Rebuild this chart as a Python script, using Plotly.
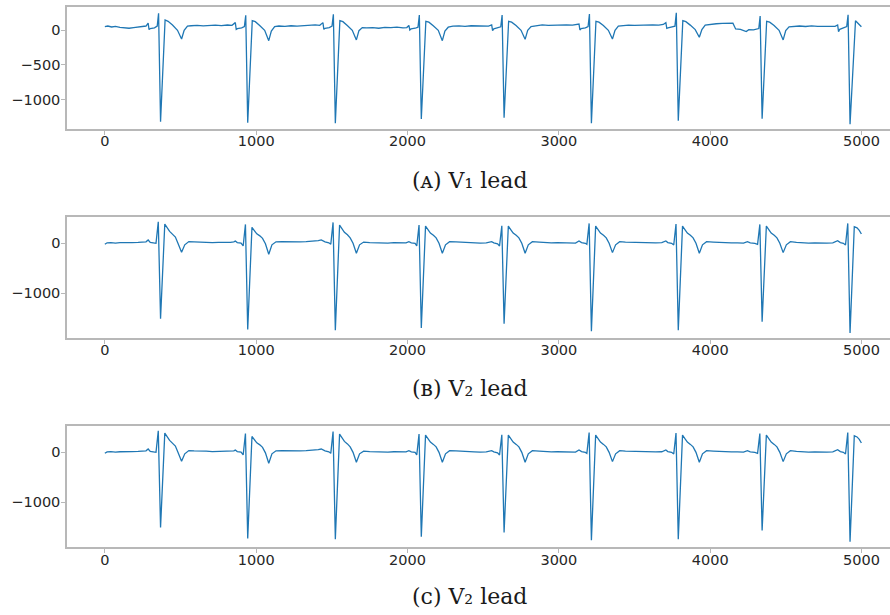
import plotly.graph_objects as go

# ---- V1 lead: sample index / amplitude ----
v1_x = [
    0, 20, 45, 70, 100, 130, 160, 190, 220, 250, 272,
    286, 292, 300, 328, 346, 355, 368, 398, 418, 447, 480, 507, 524, 546,
    570, 610, 650, 690, 730, 770, 810, 840,
    862, 868, 876, 904, 922, 931, 944, 974, 994, 1023, 1056, 1083, 1100, 1122,
    1150, 1190, 1230, 1270, 1310, 1350, 1390, 1420,
    1441, 1447, 1455, 1483, 1501, 1510, 1523, 1553, 1573, 1602, 1635, 1662, 1679, 1701,
    1730, 1770, 1810, 1850, 1890, 1930, 1970, 1995,
    2009, 2015, 2023, 2051, 2069, 2078, 2091, 2121, 2141, 2170, 2203, 2230, 2247, 2269,
    2300, 2340, 2380, 2420, 2460, 2500, 2535,
    2556, 2562, 2570, 2598, 2616, 2625, 2638, 2668, 2688, 2717, 2750, 2777, 2794, 2816,
    2850, 2890, 2930, 2970, 3010, 3050, 3090, 3115,
    3133, 3139, 3147, 3175, 3193, 3202, 3215, 3245, 3265, 3294, 3327, 3354, 3371, 3393,
    3420, 3460, 3500, 3540, 3580, 3620, 3660, 3690,
    3707, 3713, 3721, 3749, 3767, 3776, 3789, 3819, 3839, 3868, 3901, 3928, 3945, 3967,
    4000, 4040, 4080, 4120, 4150, 4168, 4200, 4238, 4255, 4286, 4305, 4321,
    4330, 4343, 4373, 4393, 4422, 4455, 4482, 4499, 4521,
    4550, 4590, 4630, 4670, 4710, 4750, 4790, 4825,
    4842, 4848, 4856, 4884, 4902, 4911, 4924, 4960, 4980, 4999,
]
v1_y = [
    52, 62, 48, 58, 42, 35, 30, 38, 45, 50, 62,
    105, 10, 25, 35, 60, 245, -1319, 149, 130, 76, 0, -125, 0, 60,
    66, 72, 64, 70, 75, 68, 77, 72,
    111, 14, 25, 35, 55, 216, -1333, 139, 125, 70, 0, -149, -10, 55,
    62, 58, 66, 60, 70, 75, 80, 72,
    111, 14, 30, 40, 60, 231, -1342, 139, 125, 70, 0, -139, -5, 40,
    35, 40, 30, 42, 38, 45, 35, 40,
    70, 5, 20, 30, 45, 221, -1280, 130, 118, 65, 0, -149, -10, 45,
    60, 65, 58, 66, 62, 68, 60,
    77, -5, 20, 35, 50, 221, -1261, 130, 118, 70, 0, -130, 0, 55,
    70, 78, 72, 76, 70, 80, 74, 78,
    91, 5, 25, 35, 55, 235, -1342, 130, 118, 70, 0, -125, 0, 60,
    70, 76, 72, 78, 74, 80, 76, 85,
    111, 29, 35, 45, 60, 254, -1304, 139, 125, 75, 10, -101, 10, 75,
    88, 95, 100, 98, 104, 20, 15, -19, 10, 5, 10, 25,
    206, -1276, 130, 118, 70, 0, -139, -5, 50,
    58, 62, 55, 63, 58, 60, 62, 58,
    77, -19, 15, 40, 55, 225, -1356, 139, 100, 52,
]

# ---- V2 lead: sample index / amplitude ----
v2_x = [
    0, 15, 40, 70, 100, 140, 180, 220, 250, 272,
    286, 300, 320, 338, 353, 368, 396, 413, 428, 448, 466, 483, 507, 528, 555,
    590, 630, 670, 710, 750, 790, 830, 852,
    862, 875, 900, 914, 929, 944, 972, 989, 1004, 1024, 1042, 1061, 1083, 1104, 1131,
    1170, 1210, 1250, 1290, 1330, 1370, 1410, 1430,
    1441, 1455, 1480, 1493, 1508, 1523, 1551, 1568, 1583, 1603, 1621, 1640, 1662, 1683, 1710,
    1750, 1790, 1830, 1870, 1910, 1950, 1990,
    2009, 2025, 2050, 2061, 2076, 2091, 2119, 2136, 2151, 2171, 2189, 2208, 2230, 2251, 2278,
    2320, 2360, 2400, 2440, 2480, 2520,
    2556, 2570, 2595, 2608, 2623, 2638, 2666, 2683, 2698, 2718, 2736, 2755, 2777, 2798, 2825,
    2870, 2910, 2950, 2990, 3030, 3070, 3110,
    3133, 3150, 3175, 3185, 3200, 3215, 3243, 3260, 3275, 3295, 3313, 3332, 3354, 3375, 3402,
    3440, 3480, 3520, 3560, 3600, 3640, 3680,
    3707, 3720, 3745, 3759, 3774, 3789, 3817, 3834, 3849, 3869, 3887, 3906, 3928, 3949, 3976,
    4020, 4060, 4100, 4140, 4180, 4220,
    4246, 4265, 4295, 4313, 4328, 4343, 4371, 4388, 4403, 4423, 4441, 4460, 4482, 4503, 4530,
    4570, 4610, 4650, 4690, 4730, 4770, 4810,
    4842, 4860, 4880, 4894, 4909, 4924, 4952, 4970, 4985, 4999,
]
v2_y = [
    -20, 10, 15, 5, 12, 8, 15, 20, 25, 30,
    67, 20, 10, 0, 433, -1513, 387, 310, 240, 180, 125, 0, -180, -30, 35,
    30, 20, 25, 15, 20, 15, 18, 30,
    45, 15, 5, -53, 380, -1733, 320, 250, 190, 150, 100, -10, -220, -30, 30,
    35, 30, 25, 30, 35, 40, 55, 67,
    50, 30, 10, -20, 420, -1747, 367, 290, 220, 170, 110, 0, -200, -30, 25,
    15, 10, 15, 5, 12, 15, 10,
    33, 10, 0, -53, 367, -1700, 347, 270, 205, 160, 110, 0, -200, -30, 33,
    30, 20, 15, 10, 5, 8,
    33, 10, -10, -53, 353, -1613, 347, 270, 205, 160, 110, 0, -200, -30, 33,
    25, 15, 10, 12, 8, 10, 5,
    47, 15, 0, -20, 400, -1767, 347, 270, 205, 160, 110, 0, -187, -30, 33,
    25, 20, 10, 15, 5, 10, 12,
    47, 15, 0, -33, 387, -1747, 347, 270, 205, 160, 110, 0, -200, -30, 33,
    25, 15, 10, 8, 10, 5,
    33, 10, 0, -20, 380, -1573, 347, 270, 205, 160, 110, 0, -187, -30, 33,
    20, 10, 5, 10, 0, 5, 10,
    53, 15, 0, -33, 400, -1800, 333, 310, 260, 187,
]

x_ticks = [0, 1000, 2000, 3000, 4000, 5000]
v1_ticks = [0, -500, -1000]
v2_ticks = [0, -1000]

# panel captions (small-capital letters, subscript lead numbers)
captions = [
    "(\u1d00) V\u2081 lead",
    "(\u0299) V\u2082 lead",
    "(\u1d04) V\u2082 lead",
]

panels = [
    (v1_x, v1_y, v1_ticks, [-1425, 332], [0.7902, 0.9881], 0.7057),
    (v2_x, v2_y, v2_ticks, [-1908, 534], [0.4499, 0.6476], 0.3691),
    (v2_x, v2_y, v2_ticks, [-1915, 536], [0.1098, 0.3078], 0.0293),
]

SPINE = "#b8b8b8"
TICKFONT = dict(family="DejaVu Sans", size=14.5, color="#262626")

fig = go.Figure()
layout = dict(
    width=890, height=615,
    margin=dict(l=0, r=0, t=0, b=0),
    paper_bgcolor="white", plot_bgcolor="white",
    showlegend=False,
    annotations=[],
)

for i, (xs, ys, yt, yr, dom, cap_y) in enumerate(panels):
    n = "" if i == 0 else str(i + 1)
    fig.add_trace(go.Scatter(
        x=xs, y=ys, mode="lines",
        line=dict(color="#1f77b4", width=1.3),
        xaxis="x" + n, yaxis="y" + n,
        hoverinfo="skip",
    ))
    layout["xaxis" + n] = dict(
        domain=[0.0753, 1.0], range=[-250, 5188], anchor="y" + n,
        tickvals=x_ticks, ticktext=[str(v) for v in x_ticks],
        ticks="outside", ticklen=4, tickwidth=1, tickcolor=SPINE,
        ticklabelstandoff=-6,
        showline=True, linecolor=SPINE, linewidth=1.5, mirror=True,
        showgrid=False, zeroline=False, tickfont=TICKFONT,
    )
    layout["yaxis" + n] = dict(
        domain=dom, range=yr, anchor="x" + n,
        tickvals=yt, ticktext=["0" if v == 0 else "\u2212" + str(-v) for v in yt],
        ticks="outside", ticklen=4, tickwidth=1, tickcolor=SPINE,
        ticklabelstandoff=-2,
        showline=True, linecolor=SPINE, linewidth=1.5,
        showgrid=False, zeroline=False, tickfont=TICKFONT,
    )
    layout["annotations"].append(dict(
        text=captions[i], xref="paper", yref="paper",
        x=0.528, y=cap_y, xanchor="center", yanchor="middle",
        showarrow=False,
        font=dict(family="DejaVu Serif", size=22, color="#1a1a1a"),
    ))

fig.update_layout(**layout)
fig.write_html("out.html")
